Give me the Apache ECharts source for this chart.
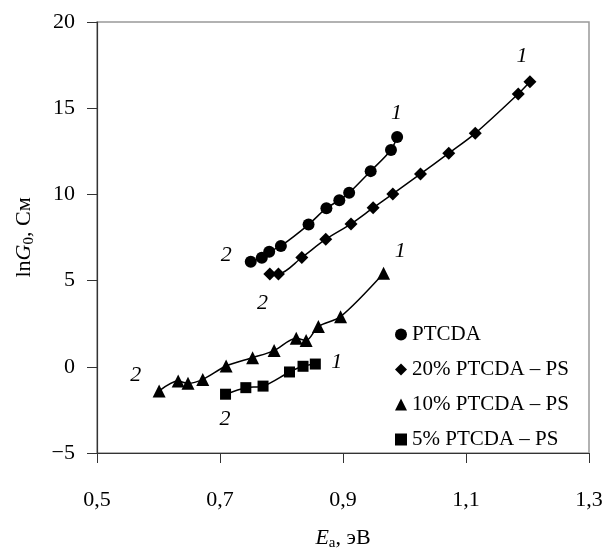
<!DOCTYPE html>
<html>
<head>
    <meta charset="UTF-8">
    <title>lnG0 vs Ea</title>
    <script type="text/javascript" src="https://cdn.jsdelivr.net/npm/echarts@6/dist/echarts.min.js"></script>
</head>
<body style="margin: 0;padding: 0;">
    <div id="container" style="width:607px; height:556px;"></div>
    <script>
        // данные
        var seriesNames = ["PTCDA", "20% PTCDA – PS", "10% PTCDA – PS", "5% PTCDA – PS"];
        var seriesSymbols = ["circle", "diamond", "triangle", "rect"];

        var ptcda = [[0.750, 6.10], [0.768, 6.33], [0.780, 6.67], [0.799, 7.01], [0.844, 8.25],
            [0.873, 9.20], [0.894, 9.66], [0.910, 10.09], [0.945, 11.35], [0.978, 12.58], [0.988, 13.33]];
        var ptcda20 = [[0.781, 5.39], [0.795, 5.39], [0.833, 6.34], [0.872, 7.40], [0.913, 8.29],
            [0.949, 9.22], [0.981, 10.03], [1.026, 11.19], [1.072, 12.39], [1.115, 13.54],
            [1.185, 15.83], [1.204, 16.53]];
        var ptcda10 = [[0.601, -1.40], [0.632, -0.83], [0.648, -0.96], [0.672, -0.73], [0.710, 0.05],
            [0.753, 0.53], [0.788, 0.94], [0.824, 1.65], [0.840, 1.52], [0.860, 2.34],
            [0.896, 2.91], [0.966, 5.43]];
        var ptcda5 = [[0.709, -1.59], [0.742, -1.21], [0.770, -1.12], [0.813, -0.30], [0.835, 0.03],
            [0.855, 0.16]];

        // подписи "1" и "2" у концов кривых
        var curveLabels = [[0.987, 14.69, "1"], [1.191, 18.02, "1"], [0.993, 6.72, "1"], [0.890, 0.27, "1"],
            [0.710, 6.50, "2"], [0.769, 3.71, "2"], [0.563, -0.49, "2"], [0.708, -3.06, "2"]];

        var xTicks = [0.5, 1.3, 0.2];
        var yTicks = [-5, 20, 5];

        var font = "Liberation Serif";
        var seriesData = [ptcda, ptcda20, ptcda10, ptcda5];
        var symbolSizes = [12, 13, 13, 11];

        var chart = echarts.init(document.getElementById('container'), null, { renderer: 'canvas' });

        var series = seriesData.map(function (d, i) {
            return {
                type: "line",
                name: seriesNames[i],
                data: d,
                smooth: 0.3,
                symbol: seriesSymbols[i],
                symbolSize: symbolSizes[i],
                showAllSymbol: true,
                lineStyle: { color: "#000", width: 1.5 },
                itemStyle: { color: "#000" },
                z: 3
            };
        });
        series.push({
            type: "scatter",
            name: "labels",
            data: curveLabels.map(function (l) { return { value: [l[0], l[1]], text: l[2] }; }),
            symbolSize: 0,
            silent: true,
            itemStyle: { opacity: 1 },
            label: {
                show: true,
                position: "inside",
                formatter: function (p) { return p.data.text; },
                fontFamily: font,
                fontStyle: "italic",
                fontSize: 22,
                color: "#000"
            }
        });

        var option = {
            animation: false,
            backgroundColor: "#fff",
            grid: {
                left: 97, right: 18, top: 22, bottom: 96,
                show: true, borderColor: "#999", borderWidth: 1.5
            },
            legend: {
                orient: "vertical",
                left: 390, top: 319,
                itemGap: 14,
                itemWidth: 12, itemHeight: 12,
                data: seriesNames.map(function (n, i) { return { name: n, icon: seriesSymbols[i] }; }),
                textStyle: { fontFamily: font, fontSize: 21, color: "#000" },
                itemStyle: { color: "#000" }
            },
            xAxis: {
                type: "value",
                min: xTicks[0], max: xTicks[1], interval: xTicks[2],
                splitLine: { show: false },
                axisLine: { onZero: false, lineStyle: { color: "#333", width: 1.2 } },
                axisTick: { inside: false, length: 10, lineStyle: { color: "#333" } },
                axisLabel: {
                    margin: 36, fontFamily: font, fontSize: 22, color: "#000",
                    formatter: function (v) { return v.toFixed(1).replace(".", ","); }
                },
                name: "{i|E}{s|a}{n|, эВ}",
                nameLocation: "middle",
                nameGap: 73,
                nameTextStyle: {
                    rich: {
                        i: { fontFamily: font, fontStyle: "italic", fontSize: 22, color: "#000" },
                        s: { fontFamily: font, fontSize: 15, color: "#000", verticalAlign: "bottom", padding: [10, 0, 0, 0] },
                        n: { fontFamily: font, fontSize: 22, color: "#000" }
                    }
                }
            },
            yAxis: {
                type: "value",
                min: yTicks[0], max: yTicks[1], interval: yTicks[2],
                splitLine: { show: false },
                axisLine: { onZero: false, lineStyle: { color: "#333", width: 1.2 } },
                axisTick: { inside: false, length: 10, lineStyle: { color: "#333" } },
                axisLabel: {
                    margin: 22, fontFamily: font, fontSize: 22, color: "#000",
                    formatter: function (v) { return String(v).replace("-", "−"); }
                },
                name: "{n|ln}{i|G}{s|0}{n|, См}",
                nameLocation: "middle",
                nameGap: 60,
                nameTextStyle: {
                    rich: {
                        i: { fontFamily: font, fontStyle: "italic", fontSize: 22, color: "#000" },
                        s: { fontFamily: font, fontSize: 15, color: "#000", verticalAlign: "bottom", padding: [10, 0, 0, 0] },
                        n: { fontFamily: font, fontSize: 22, color: "#000" }
                    }
                }
            },
            series: series
        };
        chart.setOption(option);
    </script>
</body>
</html>
